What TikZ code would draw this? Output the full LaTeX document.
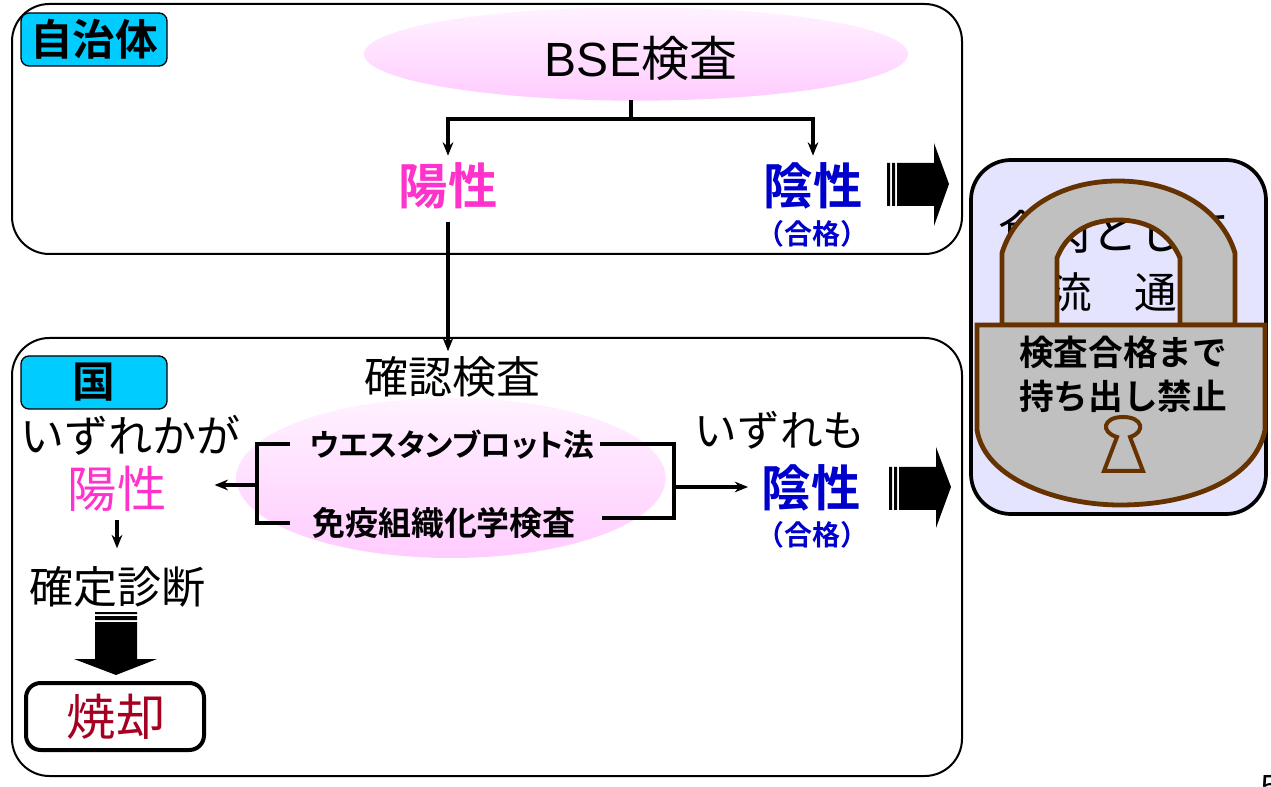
\documentclass[tikz,border=0pt]{standalone}
\usepackage{fontspec}
\setmainfont{Noto Sans CJK JP}[BoldFont={Noto Sans CJK JP Bold}]
\newfontfamily\latinfont{Liberation Sans}
\usetikzlibrary{arrows.meta,shapes.geometric}

\definecolor{labelcyan}{RGB}{0,204,255}
\definecolor{ovalpink}{RGB}{255,204,255}
\definecolor{ovaltop}{RGB}{255,242,255}
\definecolor{positivepink}{RGB}{255,51,204}
\definecolor{negativeblue}{RGB}{0,0,204}
\definecolor{burnred}{RGB}{165,0,33}
\definecolor{panelblue}{RGB}{228,228,255}
\definecolor{lockgray}{RGB}{192,192,192}
\definecolor{lockbrown}{RGB}{102,51,0}

\tikzset{
  panelbox/.style={draw,line width=1.5pt,rounded corners=28pt},
  labelbox/.style={draw,fill=labelcyan,line width=1pt,rounded corners=6pt},
  pinkoval/.style={ellipse,inner sep=0pt,top color=ovaltop,bottom color=ovalpink},
  jtext/.style={inner sep=0pt,font=\fontsize{#1}{#1}\selectfont,text height=#1*0.86pt,text depth=#1*0.1pt},
  jtext/.default=33,
  boldtext/.style={inner sep=0pt,font=\fontsize{#1}{#1}\selectfont\bfseries,text height=#1*0.86pt,text depth=#1*0.1pt},
  resulttext/.style={boldtext=37,outer ysep=5pt},
  smalltext/.style={boldtext=21,text=negativeblue},
  linkline/.style={line width=2.8pt},
  linkarrow/.style={line width=2.5pt,-{Stealth[length=10pt,width=8pt]}},
  lockline/.style={draw=lockbrown,fill=lockgray,line width=3.6pt},
}

\begin{document}
\begin{tikzpicture}[x=0.75pt,y=0.75pt,yscale=-1,xscale=1]
\clip (0,0) rectangle (1271,787);

% top panel
\draw [panelbox] (12,4) rectangle (962,254);
\draw (636,54) node [pinkoval,minimum width=408pt,minimum height=70pt] (bseoval) {};
\draw [labelbox] (21,13) rectangle (167,66);
\draw (94,39) node [boldtext=32] (cityname) {自治体};
\draw (641,58) node [jtext=36] (bse) {{\latinfont BSE}検査};
\draw (448,186) node [resulttext,text=positivepink] (posone) {陽性};
\draw (813,186) node [resulttext,text=negativeblue] (negone) {陰性};
\draw (812,234) node [smalltext] (passone) {（合格）};

% bottom panel
\draw [panelbox] (12,338) rectangle (962,776);
\draw (451,478) node [pinkoval,minimum width=322pt,minimum height=120pt] (testoval) {};
\draw [labelbox] (21,356) rectangle (167,409);
\draw (94,381) node [boldtext=32] (nation) {国};
\draw (452,377) node [jtext,outer ysep=3.5pt] (confirm) {確認検査};
\draw (131,436) node [jtext] (eitherpos) {いずれかが};
\draw (117,489) node [jtext=37,text=positivepink] (postwo) {陽性};
\draw (117,587) node [jtext] (diagnosis) {確定診断};
\draw (780,430) node [jtext=32] (bothneg) {いずれも};
\draw (811,488) node [resulttext,text=negativeblue] (negtwo) {陰性};
\draw (812,535) node [smalltext] (passtwo) {（合格）};
\draw (452,445) node [boldtext=23] (blot) {\addfontfeature{RawFeature=+palt}ウエスタンブロット法};
\draw (444,523) node [boldtext=24.7] (immuno) {免疫組織化学検査};
\draw [line width=3pt,rounded corners=11pt] (26,683) rectangle (204,750);
\draw (116,717) node [jtext=37,text=burnred] (burn) {焼却};

% connectors
\coordinate (bsefoot) at (631,100);
\coordinate (split) at (631,119);
\coordinate (blotleft) at (290,444);
\coordinate (immunoleft) at (290,523);
\coordinate (joinleft) at (257,485);
\coordinate (blotright) at (600,444);
\coordinate (immunoright) at (602,518);
\coordinate (joinright) at (674,487);
\draw [linkline] (bsefoot) -- (split);
\draw [linkline,line cap=rect] (posone |- split) -- (negone |- split);
\draw [linkarrow] (posone |- split) -- (posone.north);
\draw [linkarrow] (negone |- split) -- (negone.north);
\draw [linkarrow,shorten <=4pt] (posone.south) -- (posone |- confirm.north);
\draw [linkline] (blotleft) -| (joinleft) |- (immunoleft);
\draw [linkline] (blotright) -| (joinright) |- (immunoright);
\draw [linkarrow] (joinleft) -- ([xshift=36pt]postwo.east |- joinleft);
\draw [linkarrow] (joinright) -- ([xshift=-10pt]negtwo.west |- joinright);
\draw [linkarrow,shorten <=5pt,shorten >=13pt] (postwo.south) -- (diagnosis.north);

% block arrows
\fill (887,163) rectangle (890,206) (892,163) rectangle (895,206);
\fill (897,163) -- (934,163) -- (934,143) -- (949,184) -- (934,226) -- (934,206) -- (897,206) -- cycle;
\fill (889,467) rectangle (892,510) (894,467) rectangle (897,510);
\fill (899,467) -- (936,467) -- (936,447) -- (951,487) -- (936,528) -- (936,510) -- (899,510) -- cycle;
\fill (95,612) rectangle (137,614) (95,616) rectangle (137,620);
\fill (95,622) -- (137,622) -- (137,659) -- (157,659) -- (116,675) -- (74,659) -- (95,659) -- cycle;

% lock
\draw [fill=panelblue,line width=2.8pt,rounded corners=30pt] (971,160) rectangle (1266,514);
\draw (1114,232) node [jtext=35] (meat) {食肉として};
\draw (1113,292) node [jtext=32] (market) {流　通};
\draw [lockline,even odd rule] (1002,325) -- (1002,253) .. controls (1015,210) and (1060,181) .. (1118,181) .. controls (1176,181) and (1222,210) .. (1235,253) -- (1235,325) -- (1180,325) -- (1180,258) .. controls (1170,235) and (1150,220) .. (1118,220) .. controls (1086,220) and (1066,235) .. (1057,258) -- (1057,325) -- cycle;
\draw [lockline] (977,325) -- (1265,325) -- (1265,430) .. controls (1255,480) and (1190,505) .. (1120,505) .. controls (1060,505) and (985,480) .. (977,430) -- cycle;
\draw [lockline,line width=3pt] (1117,437) .. controls (1100,432) and (1103,417) .. (1123,417) .. controls (1143,417) and (1146,432) .. (1130,437) -- (1143,471) -- (1104,471) -- cycle;
\draw (1123,352) node [boldtext=26] (lockone) {検査合格まで};
\draw (1123,396) node [boldtext=26] (locktwo) {持ち出し禁止};

\draw (1270,785) node [jtext=24,font=\fontsize{24}{24}\selectfont\latinfont] (pagenum) {5};
\end{tikzpicture}
\end{document}
